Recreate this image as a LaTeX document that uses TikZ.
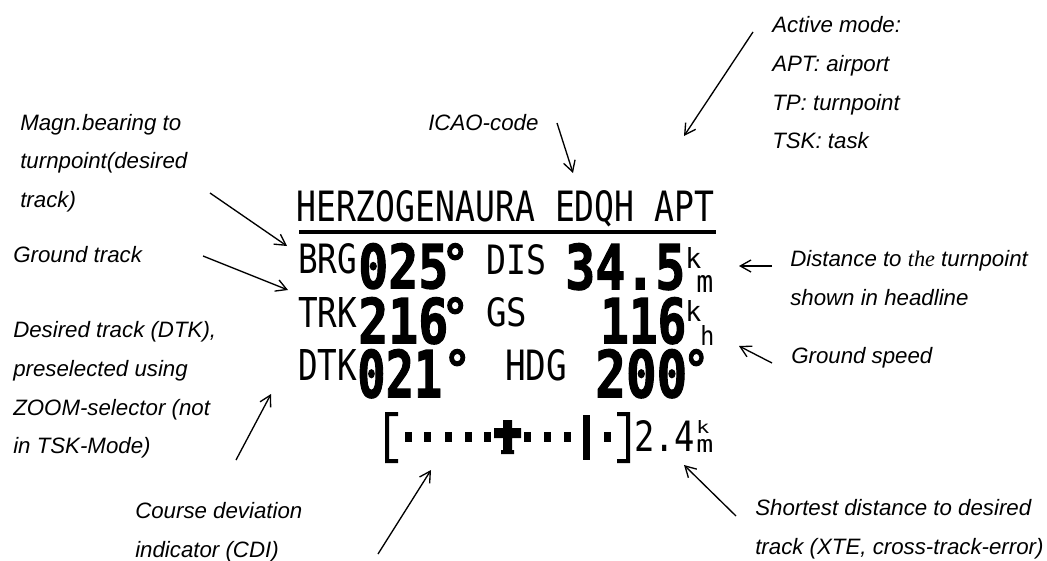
\documentclass[tikz,border=0pt]{standalone}
\usepackage{fontspec}
\usepackage{graphicx}
\setmainfont{Liberation Sans}
\newfontfamily\lcdthin{DejaVu Sans Mono}
\newfontfamily\lcdbold[FakeBold=2]{DejaVu Sans Mono Bold}
\newfontfamily\notethe{Liberation Serif}
\usetikzlibrary{arrows.meta}
% width and height in pixels of the reference
\newcommand{\thintext}[3]{\resizebox{\dimexpr #1pt*3/4\relax}{\dimexpr #2pt*3/4\relax}{\lcdthin #3}}
\newcommand{\boldtext}[3]{\resizebox{\dimexpr #1pt*3/4\relax}{\dimexpr #2pt*3/4\relax}{\lcdbold #3}}

\begin{document}
\begin{tikzpicture}[x=0.75pt, y=-0.75pt,
    note/.style = {anchor=west, align=left, inner sep=0pt, font=\fontsize{16.7}{29}\selectfont\itshape},
    lcd/.style = {anchor=north west, inner sep=0pt},
    dot/.style = {fill, inner sep=0pt, minimum width=7pt*3/4, minimum height=10pt*3/4},
    pointer/.style = {-{Straight Barb[length=8pt,width=9pt]}, line width=1pt}]
    \useasboundingbox (0,0) rectangle (1047,561);

    % notes
    \node[note] (active) at (772,83) {Active mode:\\APT: airport\\TP: turnpoint\\TSK: task};
    \node[note] (icao) at (428,123) {ICAO-code};
    \node[note] (magn) at (20,163) {Magn.bearing to\\turnpoint(desired\\track)};
    \node[note] (ground) at (13,255) {Ground track};
    \node[note] (desired) at (13,390) {Desired track (DTK),\\preselected using\\ZOOM-selector (not\\in TSK-Mode)};
    \node[note] (course) at (135,532) {Course deviation\\indicator (CDI)};
    \node[note] (shortest) at (755,529) {Shortest distance to desired\\track (XTE, cross-track-error)};
    \node[note] (distance) at (790,278) {Distance to {\notethe the} turnpoint\\shown in headline};
    \node[note] (speed) at (791,358) {Ground speed};

    % display
    \node[lcd] (head) at (296,190) {\thintext{418}{31}{HERZOGENAURA EDQH APT}};
    \node[lcd] (brg) at (298,243) {\thintext{59}{30}{BRG}};
    \node[lcd] (bval) at (358,243) {\boldtext{90}{45}{025}};
    \node[lcd] (bdeg) at (441,243) {\boldtext{28}{38}{°}};
    \node[lcd] (dis) at (486,244) {\thintext{60}{30}{DIS}};
    \node[lcd] (dval) at (565,243) {\boldtext{120}{46}{34.5}};
    \node[lcd] (dk) at (685,247) {\thintext{16}{21}{k}};
    \node[lcd] (dm) at (696,275) {\thintext{17}{17}{m}};
    \node[lcd] (trk) at (298,297) {\thintext{59}{30}{TRK}};
    \node[lcd] (tval) at (358,297) {\boldtext{90}{46}{216}};
    \node[lcd] (tdeg) at (441,297) {\boldtext{28}{38}{°}};
    \node[lcd] (gs) at (486,297) {\thintext{41}{29}{GS}};
    \node[lcd] (sval) at (600,297) {\boldtext{86}{46}{116}};
    \node[lcd] (sk) at (685,300) {\thintext{16}{21}{k}};
    \node[lcd] (sh) at (700,325) {\thintext{14}{20}{h}};
    \node[lcd] (dtk) at (298,349) {\thintext{59}{31}{DTK}};
    \node[lcd] (kval) at (357,349) {\boldtext{85}{48}{021}};
    \node[lcd] (kdeg) at (443,349) {\boldtext{28}{38}{°}};
    \node[lcd] (hdg) at (505,349) {\thintext{62}{31}{HDG}};
    \node[lcd] (hval) at (595,349) {\boldtext{92}{48}{200}};
    \node[lcd] (hdeg) at (683,349) {\boldtext{26}{38}{°}};
    \fill (299,230) rectangle (716,234);

    % course deviation indicator
    \fill (385,412) rectangle (398,416) (385,412) rectangle (389,463) (385,459) rectangle (398,463);
    \fill (617,412) rectangle (630,416) (626,412) rectangle (630,463) (617,459) rectangle (630,463);
    \node[dot] (d1) at (408,437) {};
    \node[dot] (d2) at (427,437) {};
    \node[dot] (d3) at (448,437) {};
    \node[dot] (d4) at (468,437) {};
    \node[dot] (d5) at (487,437) {};
    \node[dot] (d6) at (527,437) {};
    \node[dot] (d7) at (547,437) {};
    \node[dot] (d8) at (567,437) {};
    \node[dot] (d9) at (607,437) {};
    \fill (494,428) rectangle (521,438) (503,420) rectangle (512,450) (501,450) rectangle (514,454);
    \fill (583,415) rectangle (590,460);
    \node[lcd] (xval) at (634,420) {\thintext{61}{31}{2.4}};
    \node[lcd] (xk) at (696,420) {\thintext{13}{13}{k}};
    \node[lcd] (xm) at (696,439) {\thintext{17}{13}{m}};

    % pointers
    \coordinate (p1) at (753,32);   \coordinate (q1) at (684,136);
    \coordinate (p2) at (557,123);  \coordinate (q2) at (573,173);
    \coordinate (p3) at (210,193);  \coordinate (q3) at (287,246);
    \coordinate (p4) at (203,256);  \coordinate (q4) at (288,290);
    \coordinate (p5) at (236,460);  \coordinate (q5) at (271,394);
    \coordinate (p6) at (378,554);  \coordinate (q6) at (431,470);
    \coordinate (p7) at (736,516);  \coordinate (q7) at (684,465);
    \coordinate (p8) at (772,266);  \coordinate (q8) at (739,266);
    \coordinate (p9) at (772,363);  \coordinate (q9) at (739,346);
    \draw[pointer] (p1) -- (q1);
    \draw[pointer] (p2) -- (q2);
    \draw[pointer] (p3) -- (q3);
    \draw[pointer] (p4) -- (q4);
    \draw[pointer] (p5) -- (q5);
    \draw[pointer] (p6) -- (q6);
    \draw[pointer] (p7) -- (q7);
    \draw[pointer] (p8) -- (q8);
    \draw[pointer] (p9) -- (q9);
\end{tikzpicture}
\end{document}
